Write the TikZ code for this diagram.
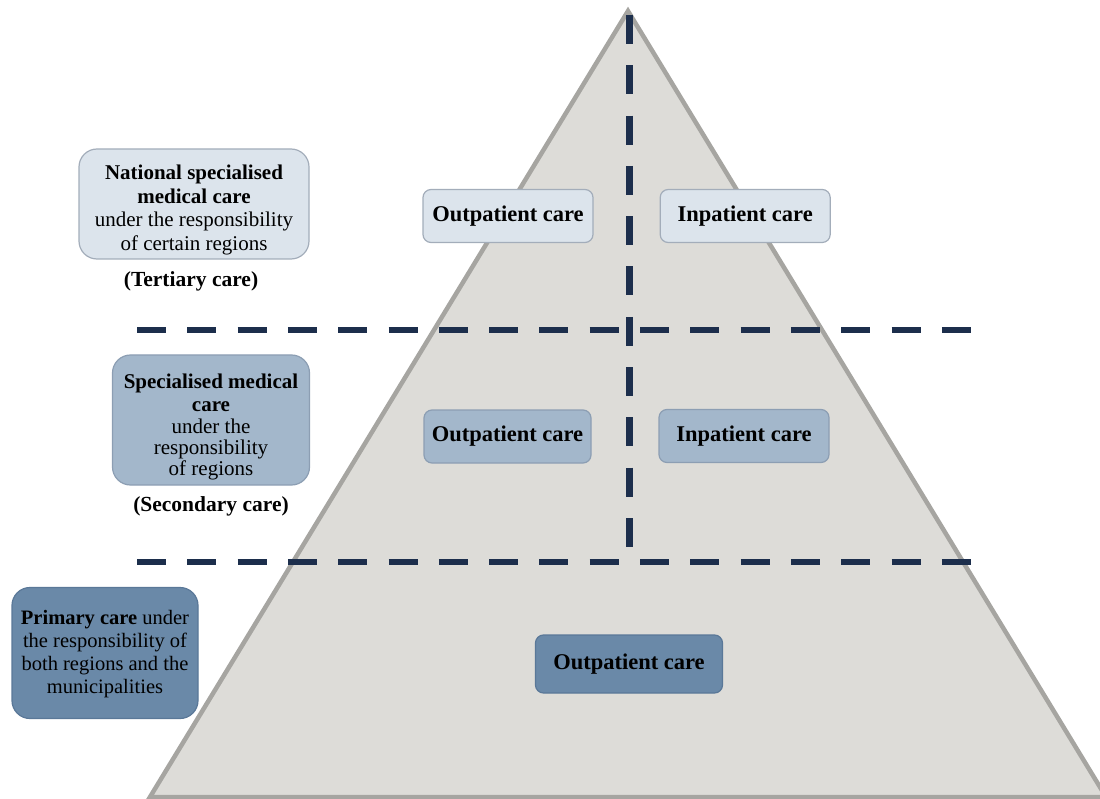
\documentclass[tikz,border=0pt]{standalone}
\usepackage{fontspec}
\setmainfont{Liberation Serif}
\usetikzlibrary{positioning}
\definecolor{pyrfill}{HTML}{DDDCD8}
\definecolor{pyredge}{HTML}{A6A5A1}
\definecolor{dashblue}{HTML}{1C2E4C}
\definecolor{lightfill}{HTML}{DCE4EC}
\definecolor{lightedge}{HTML}{A3ADBA}
\definecolor{midfill}{HTML}{A3B7CB}
\definecolor{midedge}{HTML}{8C9EB3}
\definecolor{darkfill}{HTML}{6A89A8}
\definecolor{darkedge}{HTML}{5A7898}

\begin{document}
\begin{tikzpicture}[x=1pt, y=-1pt,
          sidebox/.style={rounded corners=18pt, line width=1.2pt, inner sep=0pt},
          boxtext/.style={align=center, inner sep=0pt, text=black,
                          font=\fontsize{21}{23.7}\selectfont},
          carebox/.style={rounded corners=8pt, line width=1.2pt, inner sep=0pt,
                          minimum height=53pt, text=black,
                          font=\fontsize{22.5}{25}\selectfont\bfseries},
          light/.style={draw=lightedge, fill=lightfill},
          mid/.style={draw=midedge, fill=midfill},
          dark/.style={draw=darkedge, fill=darkfill},
          lbl/.style={inner sep=0pt, font=\fontsize{21.5}{24}\selectfont\bfseries},
          divider/.style={dashblue, line width=6pt, dash pattern=on 29pt off 21.3pt}
        ]
          \useasboundingbox (0,0) rectangle (1100,799);
          \begin{scope}
            \clip (0,0) rectangle (1100,799);
            \draw[pyredge, fill=pyrfill, line width=4.5pt, line join=miter]
                 (628,11) -- (1106,797) -- (150,797) -- cycle;
          \end{scope}
          % dashed dividers
          \draw[divider] (137,330) -- (973,330);
          \draw[divider] (137,562) -- (973,562);
          \draw[divider, line width=7pt] (629.5,15) -- (629.5,550);
          % left column
          \node[sidebox, light, minimum width=230pt, minimum height=110pt] (nat) at (194,204) {};
          \node[boxtext] (nattext) at ([yshift=-6pt]nat.center)
               {\textbf{National specialised}\\ \textbf{medical care}\\ under the responsibility\\ of certain regions};
          \node[lbl, below=12pt of nat, xshift=-3pt] (tert) {(Tertiary care)};
          \node[sidebox, mid, minimum width=197pt, minimum height=130pt] (spec) at (211,420) {};
          \node[boxtext, font=\fontsize{21}{21.3}\selectfont] (spectext) at ([yshift=-7pt]spec.center)
               {\textbf{Specialised medical}\\[2.5pt] \textbf{care}\\ under the\\ responsibility\\ of regions};
          \node[lbl, below=11pt of spec] (sec) {(Secondary care)};
          \node[sidebox, dark, minimum width=186pt, minimum height=131pt] (prim) at (105,653) {};
          \node[boxtext, font=\fontsize{20.5}{23}\selectfont] (primtext) at ([yshift=-1pt]prim.center)
               {\textbf{Primary care} under\\ the responsibility of\\ both regions and the\\ municipalities};
          % pyramid levels
          \node[carebox, light, minimum width=170pt] (outtop) at (508,216) {Outpatient care};
          \node[carebox, light, minimum width=170pt, right=66pt of outtop] (intop) {Inpatient care};
          \node[carebox, mid, minimum width=167pt] (outmid) at (507.5,436.5) {Outpatient care};
          \node[carebox, mid, minimum width=170pt] (inmid) at (744,436) {Inpatient care};
          \node[carebox, dark, minimum width=187pt, minimum height=58pt] (outbot) at (629,664) {Outpatient care};
        \end{tikzpicture}
\end{document}
